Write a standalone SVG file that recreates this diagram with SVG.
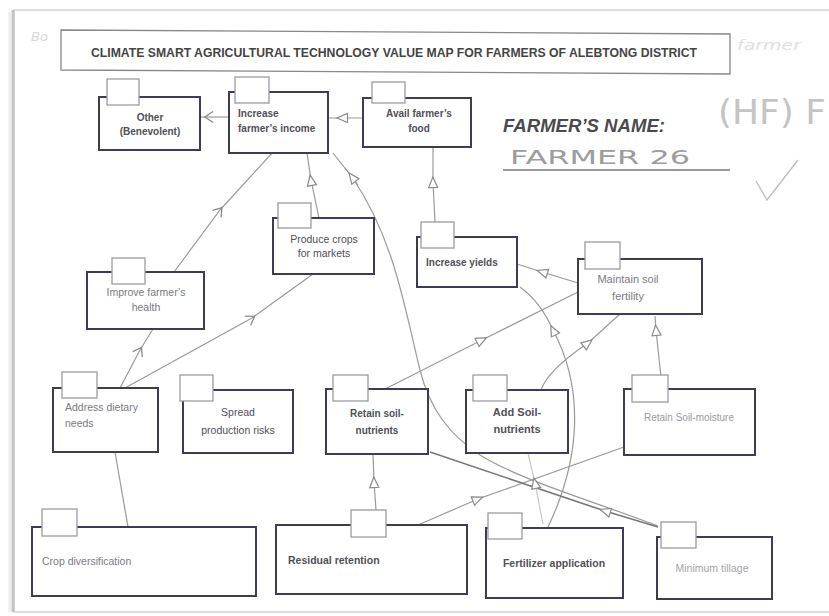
<svg xmlns="http://www.w3.org/2000/svg" width="829" height="616" viewBox="0 0 829 616">
<style>
.box{fill:#fff;stroke:#3d3d52;stroke-width:2}
.tab{fill:#fff;stroke:#9a9aa4;stroke-width:1.3}
.t{font-family:"Liberation Sans",Arial,sans-serif;font-size:10px;fill:#505058}
.b{font-weight:bold}
.c{text-anchor:middle}
.lt{fill:#7a7a80}
.vl{fill:#9a9a9e}
.cn{fill:none;stroke:#9a9a9a;stroke-width:1.2}
.ct{marker-mid:url(#tri)}
.cv{marker-mid:url(#chev)}
.hw{font-family:"DejaVu Sans",sans-serif;fill:#a8a8a8}
</style>
<defs>
<marker id="tri" viewBox="0 0 14 12" refX="7" refY="6" markerWidth="14" markerHeight="12" markerUnits="userSpaceOnUse" orient="auto">
<path d="M1.5,1.5 L12,6 L1.5,10.5 Z" fill="#fff" stroke="#8a8a8a" stroke-width="1.2"/>
</marker>
<marker id="chev" viewBox="0 0 14 14" refX="7" refY="7" markerWidth="14" markerHeight="14" markerUnits="userSpaceOnUse" orient="auto">
<path d="M2,1.5 L10,7 L2,12.5" fill="none" stroke="#8a8a8a" stroke-width="1.3"/>
</marker>
</defs>
<rect x="0" y="0" width="829" height="616" fill="#fff"/>
<g id="paper">
<rect x="14" y="10" width="830" height="602" fill="#fff" stroke="#d4d4d4" stroke-width="1.5"/>
<line x1="13" y1="10" x2="13" y2="612" stroke="#c4c4c4" stroke-width="3"/>
<line x1="10" y1="12" x2="10" y2="612" stroke="#ececec" stroke-width="3"/>
</g>
<g id="title">
<path d="M61,30 L730,34 L730,74 L61,70 Z" fill="#fff" stroke="#888" stroke-width="1.3"/>
<text x="91" y="57" class="t b" style="font-size:12.5px;fill:#444" textLength="606" lengthAdjust="spacingAndGlyphs">CLIMATE SMART AGRICULTURAL TECHNOLOGY VALUE MAP FOR FARMERS OF ALEBTONG DISTRICT</text>
</g>
<g id="annotations">
<text x="503" y="132" class="t b" style="font-size:19px;font-style:italic;fill:#4a4a4e" textLength="162" lengthAdjust="spacingAndGlyphs">FARMER’S NAME:</text>
<text x="510" y="164" class="hw" style="font-size:19px;fill:#9c9c9c" textLength="180" lengthAdjust="spacingAndGlyphs">FARMER 26</text>
<line x1="503" y1="170" x2="730" y2="170" stroke="#777" stroke-width="1.5"/>
<text x="718" y="124" class="hw" style="font-size:34px;fill:#c4c4c4" textLength="108" lengthAdjust="spacingAndGlyphs">(HF) F</text>
<path d="M756,181 L767,200 L798,160" fill="none" stroke="#bcbcbc" stroke-width="1.3"/>
<text x="737" y="50" class="hw" style="font-size:14px;font-style:italic;fill:#e0e0e0" textLength="64" lengthAdjust="spacingAndGlyphs">farmer</text>
<text x="31" y="41" class="hw" style="font-size:13px;font-style:italic;fill:#d6d6d6">Bo</text>
</g>
<g id="connectors">
<path class="cn cv" d="M229,117 L208,117 L200,117"/>
<path class="cn ct" d="M363,118 L342,118 L328,118"/>
<path class="cn cv" d="M174,272 L220,210 L273,152"/>
<path class="cn ct" d="M319,218 L311,180 L307,153"/>
<path class="cn" d="M658,526 C590,500 520,480 480,455 C450,435 430,410 420,370 C405,310 395,240 352,177 L333,153"/>
<path class="cn ct" d="M358,185 L352,177 L345,168"/>
<path class="cn ct" d="M548,527 C580,460 585,390 553,330 C545,312 535,298 520,287"/>
<path class="cn ct" d="M578,283 L542,272 L517,264"/>
<path class="cn ct" d="M385,389 L482,340 L578,292"/>
<path class="cn ct" d="M541,390 Q548,370 588,343 L620,314"/>
<path class="cn ct" d="M661,377 L656,330 L655,316"/>
<path class="cn ct" d="M435,222 L433,182 L433,147"/>
<path class="cn cv" d="M120,388 L140,350 L153,329"/>
<path class="cn cv" d="M125,388 L252,318 L313,274"/>
<path class="cn" d="M128,527 L115,452"/>
<path class="cn ct" d="M376,510 L374,482 L373,454"/>
<path class="cn ct" d="M418,525 L478,499 L624,447"/>
<path class="cn ct" style="stroke:#777;stroke-width:1.6" d="M658,527 L605,511 L430,452"/>
<path class="cn ct" style="stroke:#c8c8c8" d="M543,524 L535,483 L528,453"/>
</g>
<g id="n-other"><rect class="box" x="99" y="97" width="101" height="53"/><rect class="tab" x="107" y="79" width="32" height="26"/>
<text class="t b c" x="150" y="121">Other</text><text class="t b c" x="150" y="135">(Benevolent)</text></g>
<g id="n-income"><rect class="box" x="229" y="92" width="99" height="61"/><rect class="tab" x="235" y="77" width="34" height="26"/>
<text class="t b" x="238" y="117">Increase</text><text class="t b" x="238" y="132">farmer’s income</text></g>
<g id="n-food"><rect class="box" x="363" y="98" width="108" height="49"/><rect class="tab" x="372" y="82" width="33" height="21"/>
<text class="t b c" x="419" y="117">Avail farmer’s</text><text class="t b c" x="419" y="132">food</text></g>
<g id="n-produce"><rect class="box" x="273" y="218" width="101" height="56"/><rect class="tab" x="278" y="203" width="33" height="25"/>
<text class="t c" x="324" y="243" style="font-size:10.5px">Produce crops</text><text class="t c" x="324" y="257" style="font-size:10.5px">for markets</text></g>
<g id="n-yields"><rect class="box" x="417" y="237" width="100" height="50"/><rect class="tab" x="421" y="222" width="33" height="26"/>
<text class="t b" x="426" y="266">Increase yields</text></g>
<g id="n-maintain"><rect class="box" x="578" y="259" width="124" height="55"/><rect class="tab" x="585" y="242" width="35" height="27"/>
<text class="t c lt" x="628" y="283" style="font-size:11px">Maintain soil</text><text class="t c lt" x="628" y="300" style="font-size:11px">fertility</text></g>
<g id="n-health"><rect class="box" x="87" y="272" width="117" height="57"/><rect class="tab" x="112" y="258" width="33" height="26"/>
<text class="t c lt" x="146" y="296" style="font-size:10.5px">Improve farmer’s</text><text class="t c lt" x="146" y="311" style="font-size:10.5px">health</text></g>
<g id="n-dietary"><rect class="box" x="53" y="388" width="105" height="64"/><rect class="tab" x="62" y="372" width="35" height="26"/>
<text class="t lt" x="65" y="411" style="font-size:10.5px">Address dietary</text><text class="t lt" x="65" y="427" style="font-size:10.5px">needs</text></g>
<g id="n-spread"><rect class="box" x="183" y="390" width="110" height="63"/><rect class="tab" x="180" y="375" width="33" height="26"/>
<text class="t c" x="238" y="416" style="font-size:10.5px">Spread</text><text class="t c" x="238" y="434" style="font-size:10.5px">production risks</text></g>
<g id="n-rsn"><rect class="box" x="326" y="389" width="102" height="65"/><rect class="tab" x="333" y="375" width="35" height="26"/>
<text class="t b c" x="377" y="417">Retain soil-</text><text class="t b c" x="377" y="434">nutrients</text></g>
<g id="n-asn"><rect class="box" x="466" y="390" width="102" height="63"/><rect class="tab" x="473" y="375" width="34" height="26"/>
<text class="t b c" x="517" y="416" style="font-size:11px">Add Soil-</text><text class="t b c" x="517" y="433" style="font-size:11px">nutrients</text></g>
<g id="n-rsm"><rect class="box" x="624" y="389" width="131" height="66"/><rect class="tab" x="632" y="375" width="36" height="27"/>
<text class="t c vl" x="689" y="421">Retain Soil-moisture</text></g>
<g id="n-crop"><rect class="box" x="32" y="527" width="224" height="69"/><rect class="tab" x="42" y="509" width="35" height="27"/>
<text class="t lt" x="42" y="565" style="font-size:10.5px">Crop diversification</text></g>
<g id="n-residual"><rect class="box" x="276" y="525" width="191" height="69"/><rect class="tab" x="351" y="510" width="35" height="27"/>
<text class="t b" x="288" y="564" style="font-size:10.5px">Residual retention</text></g>
<g id="n-fert"><rect class="box" x="486" y="528" width="137" height="70"/><rect class="tab" x="488" y="513" width="34" height="26"/>
<text class="t b c" x="554" y="567" style="font-size:10.5px">Fertilizer application</text></g>
<g id="n-min"><rect class="box" x="657" y="537" width="115" height="62"/><rect class="tab" x="661" y="522" width="35" height="26"/>
<text class="t c" x="712" y="572" style="font-size:10.5px;fill:#a4a4a8">Minimum tillage</text></g>
</svg>
